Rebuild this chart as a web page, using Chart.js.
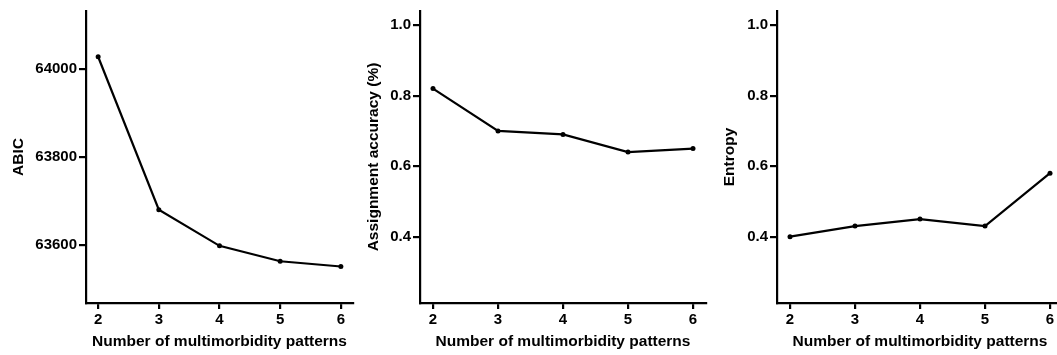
<!DOCTYPE html>
<html>
<head>
<meta charset="utf-8">
<script src="https://cdn.jsdelivr.net/npm/chart.js@4.4.1/dist/chart.umd.min.js"></script>
<style>
  html, body { margin: 0; padding: 0; background: #fff; overflow: hidden; }
  .panel { position: absolute; top: 0; }
</style>
</head>
<body>
<div class="panel" style="left:0px"><canvas id="c1" width="360" height="355"></canvas></div>
<div class="panel" style="left:340px"><canvas id="c2" width="370" height="355"></canvas></div>
<div class="panel" style="left:697px"><canvas id="c3" width="370" height="355"></canvas></div>
<script>
// data
const patterns = [2, 3, 4, 5, 6];
const abic = [64028, 63680, 63598, 63563, 63551];
const accuracy = [0.82, 0.70, 0.69, 0.64, 0.65];
const entropy = [0.40, 0.43, 0.45, 0.43, 0.58];

const abicTicks = [63600, 63800, 64000];
const probTicks = [0.4, 0.6, 0.8, 1.0];

const FAMILY = '"Liberation Sans", Arial, sans-serif';
const TICK_FONT = { family: FAMILY, size: 15, weight: 'bold' };
const TITLE_FONT = { family: FAMILY, size: 15.5, weight: 'bold' };
const INK = '#000';

function makeChart(id, values, opts) {
  return new Chart(document.getElementById(id), {
    type: 'line',
    data: {
      datasets: [{
        data: patterns.map((p, i) => ({ x: p, y: values[i] })),
        borderColor: INK,
        backgroundColor: INK,
        borderWidth: 2.2,
        pointRadius: 2.5,
        pointBorderWidth: 0,
        tension: 0,
        clip: false
      }]
    },
    options: {
      responsive: false,
      animation: false,
      layout: { padding: { top: 8, right: opts.padRight, bottom: 0, left: 0 } },
      plugins: { legend: { display: false }, tooltip: { enabled: false } },
      scales: {
        x: {
          type: 'linear',
          min: 1.8,
          max: 6.2,
          afterBuildTicks: s => { s.ticks = patterns.map(v => ({ value: v })); },
          afterFit: s => { s.height = 52; },
          grid: { drawOnChartArea: false, drawTicks: true, tickLength: 6, color: INK, lineWidth: 2.2 },
          border: { display: true, color: INK, width: 2.2 },
          ticks: { color: INK, font: TICK_FONT, padding: 2, maxRotation: 0 },
          title: {
            display: true,
            text: 'Number of multimorbidity patterns',
            color: INK,
            font: TITLE_FONT,
            padding: { top: 0, bottom: 4 }
          }
        },
        y: {
          min: opts.min,
          max: opts.max,
          afterBuildTicks: s => { s.ticks = opts.ticks.map(v => ({ value: v })); },
          afterFit: s => { s.width = opts.axisWidth; },
          grid: { drawOnChartArea: false, drawTicks: true, tickLength: 7, color: INK, lineWidth: 2.2 },
          border: { display: true, color: INK, width: 2.2 },
          ticks: { color: INK, font: TICK_FONT, padding: 2, callback: opts.fmt },
          title: {
            display: true,
            text: opts.title,
            color: INK,
            font: TITLE_FONT,
            padding: { top: opts.titlePad, bottom: 0 }
          }
        }
      }
    }
  });
}

makeChart('c1', abic, {
  min: 63468, max: 64132, ticks: abicTicks, axisWidth: 86, padRight: 7,
  title: 'ABIC', titlePad: 9, fmt: v => String(v)
});
makeChart('c2', accuracy, {
  min: 0.212, max: 1.04, ticks: probTicks, axisWidth: 80, padRight: 2,
  title: 'Assignment accuracy (%)', titlePad: 24.5, fmt: v => v.toFixed(1)
});
makeChart('c3', entropy, {
  min: 0.212, max: 1.04, ticks: probTicks, axisWidth: 80, padRight: 4,
  title: 'Entropy', titlePad: 23, fmt: v => v.toFixed(1)
});
</script>
</body>
</html>
